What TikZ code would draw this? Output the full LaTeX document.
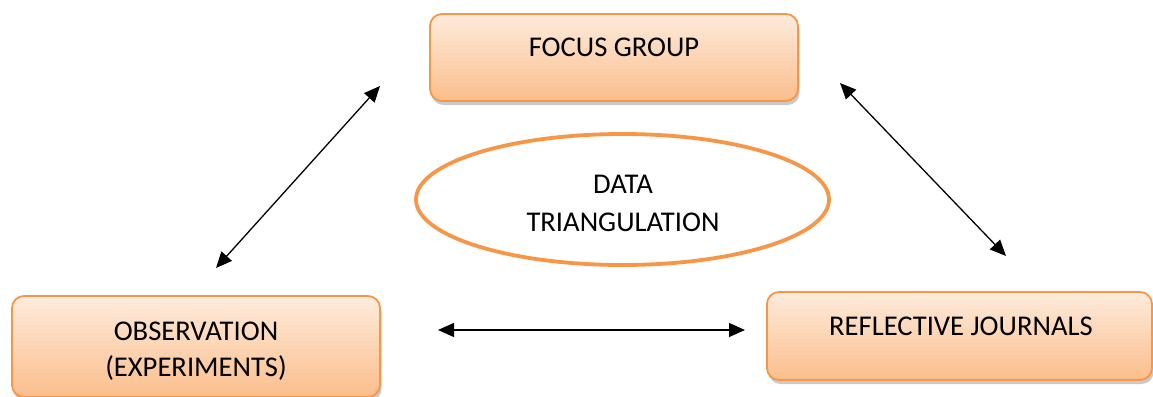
\documentclass[tikz,border=0pt]{standalone}
\usepackage{fontspec}
\setmainfont{Carlito}
\usetikzlibrary{shadows,arrows.meta,shapes.geometric}
\definecolor{boxborder}{RGB}{247,150,70}
\definecolor{boxtop}{RGB}{253,235,220}
\definecolor{boxbot}{RGB}{251,190,140}
\tikzset{
  box/.style={draw=boxborder, line width=1.8pt, rounded corners=12pt,
    top color=boxtop, bottom color=boxbot, inner sep=0pt,
    drop shadow={shadow xshift=1.5pt, shadow yshift=-4pt, opacity=0.35, fill=black!60}},
  lbl/.style={font=\fontsize{28.6}{36}\selectfont, anchor=base, inner sep=0pt},
  link/.style={{Triangle[length=16pt,width=14pt]}-{Triangle[length=16pt,width=14pt]}, line width=1.3pt},
}
\begin{document}
\begin{tikzpicture}[x=1pt,y=-1pt]
\useasboundingbox (0,0) rectangle (1153,396);
% boxes
\node[box, minimum width=368pt, minimum height=87pt] (focus) at (614,57.5) {};
\node[box, minimum width=368pt, minimum height=101pt] (obs) at (196,346.5) {};
\node[box, minimum width=385pt, minimum height=88pt] (refl) at (959.5,336) {};
\node[draw=boxborder, line width=3.8pt, ellipse, minimum width=413pt, minimum height=131pt] (tri) at (622.5,199.5) {};
% labels
\node[lbl] (focust) at (614,56.7) {FOCUS GROUP};
\node[lbl] (obst1) at (196,340) {OBSERVATION};
\node[lbl] (obst2) at (196,376) {(EXPERIMENTS)};
\node[lbl] (reflt) at (961,335) {REFLECTIVE JOURNALS};
\node[lbl] (trit1) at (623,193.3) {DATA};
\node[lbl] (trit2) at (623,231.5) {TRIANGULATION};
% arrow ends
\coordinate (a1) at (216,268);
\coordinate (a2) at (380,86);
\coordinate (b1) at (840,83);
\coordinate (b2) at (1006,256);
\coordinate (c1) at (438,330);
\coordinate (c2) at (745,330);
\draw[link] (a1) -- (a2);
\draw[link] (b1) -- (b2);
\draw[link] (c1) -- (c2);
\end{tikzpicture}
\end{document}
